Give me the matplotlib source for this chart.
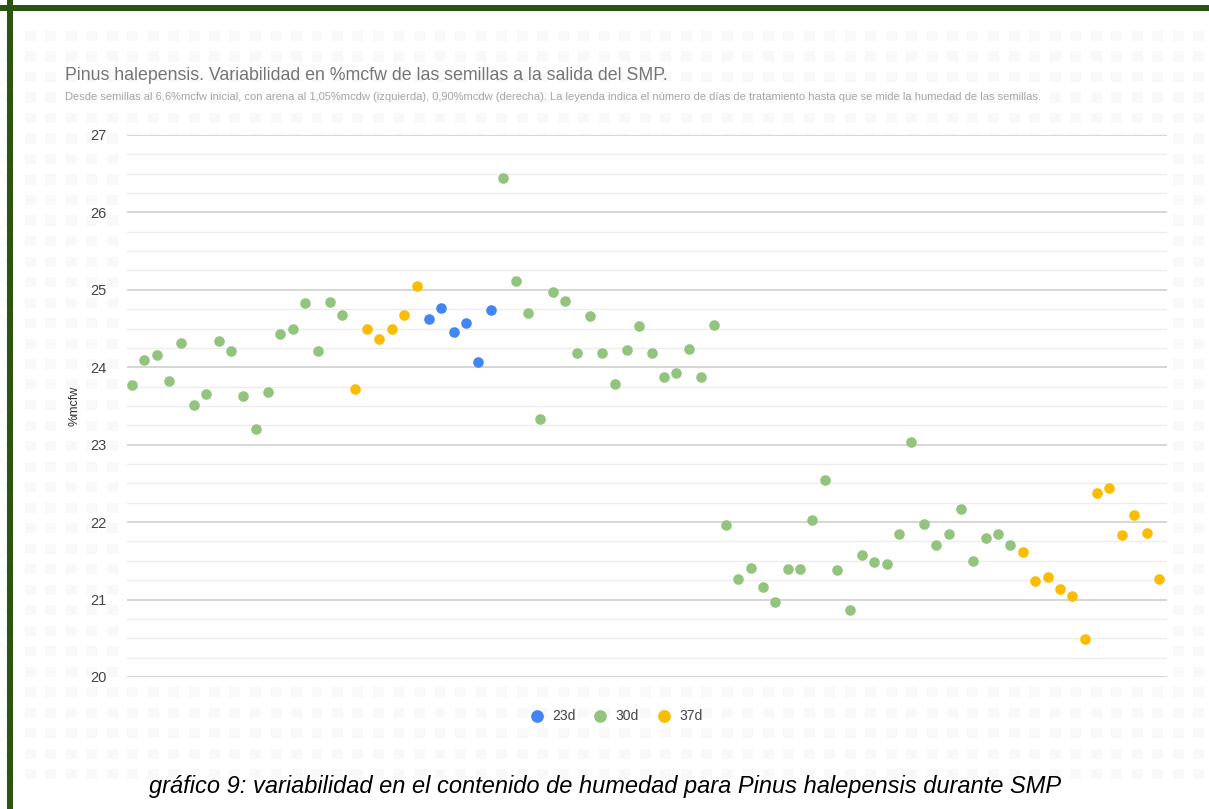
# -*- coding: UTF-8 -*-
"""
Pinus halepensis - humedad de las semillas (%mcfw) a la salida del SMP.
Cada punto es una muestra; el color indica los dias de tratamiento.
"""
import numpy as np
from matplotlib import pyplot as plt
from matplotlib.patches import Rectangle

# numero de muestra (eje x, sin etiquetas) y humedad %mcfw
muestras_30d_a = list(range(1, 19))
humedad_30d_a = [23.77, 24.10, 24.16, 23.82, 24.31, 23.51, 23.66, 24.34, 24.21,
                 23.63, 23.20, 23.68, 24.43, 24.49, 24.83, 24.21, 24.84, 24.68]

muestras_37d_a = list(range(19, 25))
humedad_37d_a = [23.72, 24.50, 24.37, 24.50, 24.68, 25.05]

muestras_23d = list(range(25, 31))
humedad_23d = [24.62, 24.77, 24.46, 24.57, 24.07, 24.74]

muestras_30d_b = list(range(31, 73))
humedad_30d_b = [26.44, 25.11, 24.70, 23.33, 24.97, 24.86, 24.19, 24.66, 24.18,
                 23.79, 24.22, 24.53, 24.19, 23.87, 23.92, 24.23, 23.87, 24.54,
                 21.96, 21.27, 21.41, 21.16, 20.97, 21.40, 21.40, 22.03, 22.55,
                 21.38, 20.87, 21.57, 21.48, 21.46, 21.85, 23.03, 21.98, 21.70,
                 21.85, 22.17, 21.50, 21.79, 21.85, 21.71]

muestras_37d_b = list(range(73, 85))
humedad_37d_b = [21.62, 21.24, 21.29, 21.14, 21.04, 20.49, 22.37, 22.44, 21.83,
                 22.09, 21.86, 21.27]

titulo = "Pinus halepensis. Variabilidad en %mcfw de las semillas a la salida del SMP."
subtitulo = ("Desde semillas al 6,6%mcfw inicial, con arena al 1,05%mcdw (izquierda), "
             "0,90%mcdw (derecha). La leyenda indica el número de días de tratamiento "
             "hasta que se mide la humedad de las semillas.")
pie = "gráfico 9: variabilidad en el contenido de humedad para Pinus halepensis durante SMP"

c23 = '#4285f4'
c30 = '#93c47d'
c37 = '#fbbc04'

plt.rcParams['font.family'] = ['Liberation Sans', 'DejaVu Sans']

W, H = 1209, 809
fig = plt.figure(figsize=(W / 100, H / 100), dpi=100)
fig.patch.set_facecolor('white')

# fondo: textura de cuadraditos grises muy claros
for px in np.arange(4, W, 20.5):
    for py in np.arange(31, 770, 20.5):
        fig.add_artist(Rectangle((px / W, 1 - (py + 10) / H), 11 / W, 10 / H,
                                 transform=fig.transFigure, color='#f9f9f9',
                                 lw=0, zorder=0))

# marco verde (arriba e izquierda)
fig.add_artist(Rectangle((0, 1 - 10.5 / H), 1, 5 / H, transform=fig.transFigure,
                         color='#2b5413', lw=0, zorder=5))
fig.add_artist(Rectangle((7 / W, 0), 5.5 / W, 1, transform=fig.transFigure,
                         color='#2b5413', lw=0, zorder=5))

ax = fig.add_axes([127 / W, 1 - 677 / H, (1167 - 127) / W, (677 - 135) / H])
ax.set_facecolor('white')

ax.scatter(muestras_23d, humedad_23d, s=58, color=c23, lw=0, zorder=3, label='23d')
ax.scatter(muestras_30d_a, humedad_30d_a, s=58, color=c30, lw=0, zorder=3, label='30d')
ax.scatter(muestras_30d_b, humedad_30d_b, s=58, color=c30, lw=0, zorder=3)
ax.scatter(muestras_37d_a, humedad_37d_a, s=58, color=c37, lw=0, zorder=3, label='37d')
ax.scatter(muestras_37d_b, humedad_37d_b, s=58, color=c37, lw=0, zorder=3)

ax.set_xlim(0.6, 84.65)
ax.set_ylim(20, 27)
ax.set_yticks(range(20, 28))
ax.set_yticks(np.arange(20, 27.01, 0.25), minor=True)
ax.set_xticks([])
ax.grid(True, which='major', axis='y', color='#d0d0d0', lw=1.2)
ax.grid(True, which='minor', axis='y', color='#ececec', lw=1.0)
ax.set_axisbelow(True)
ax.tick_params(axis='y', which='both', length=0, pad=15, labelsize=10.5,
               labelcolor='#444444')
for s in ax.spines.values():
    s.set_visible(False)

ax.set_ylabel('%mcfw', fontsize=9, color='#333333', labelpad=7)

ax.legend(loc='upper center', bbox_to_anchor=(0.467, -0.036), ncol=3, frameon=False,
          fontsize=10, labelcolor='#444444', handletextpad=0.1, columnspacing=0.8,
          markerscale=1.2)

fig.text(65 / W, 1 - 75 / H, titulo, fontsize=12.8, color='#757575', va='center')
fig.text(65 / W, 1 - 97 / H, subtitulo, fontsize=8, color='#a6a6a6', va='center')
fig.text(605 / W, 1 - 787 / H, pie, fontsize=17, style='italic', color='black',
         ha='center', va='center')

plt.savefig('out.png', dpi=100)
